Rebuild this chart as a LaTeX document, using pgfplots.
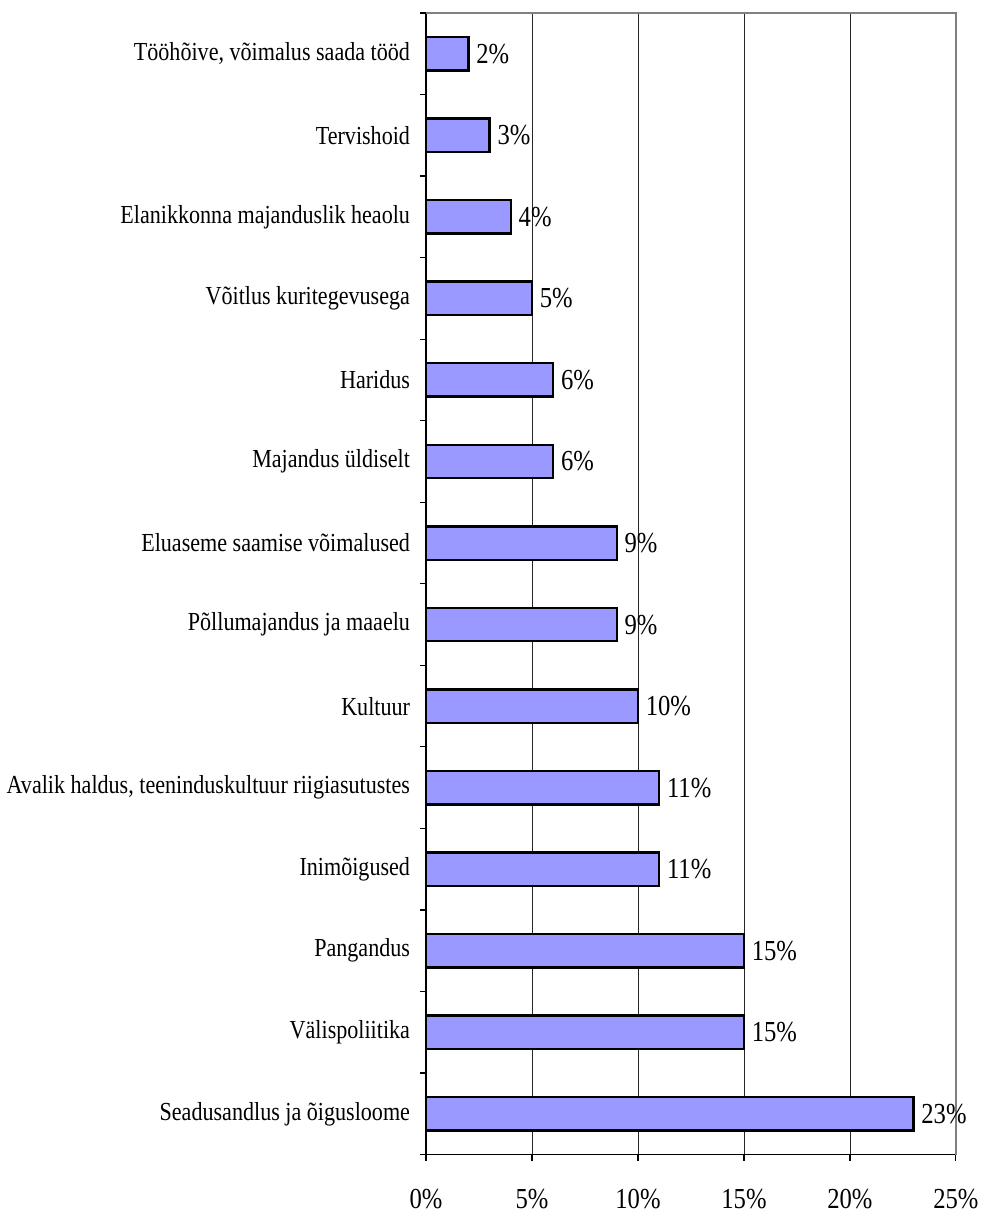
\documentclass[border=0pt]{standalone}
\usepackage{fontspec}
\setmainfont{Liberation Serif}[FakeStretch=0.85]
\usepackage{pgfplots}
\pgfplotsset{compat=1.18}
\definecolor{barblue}{HTML}{9999FF}

\pgfplotstableread{
y val
0 23
1 15
2 15
3 11
4 11
5 10
6 9
7 9
8 6
9 6
10 5
11 4
12 3
13 2
}\answers

\begin{document}
\begin{tikzpicture}
\begin{axis}[
  scale only axis,
  width=265pt, height=571pt,
  xbar,
  bar width=0.41,
  xmin=0, xmax=25,
  ymin=-0.5, ymax=13.5,
  axis x line*=bottom,
  axis y line*=left,
  axis line style={black, line width=0.8pt},
  /pgf/number format/assume math mode=true,
  xtick={0,5,10,15,20,25},
  xticklabel={\pgfmathprintnumber{\tick}\%},
  xticklabel style={font=\fontsize{14.5}{16}\selectfont, yshift=-11pt},
  xmajorgrids,
  major grid style={black!85, line width=0.4pt},
  ytick={0,...,13},
  major y tick style={draw=none},
  minor ytick={-0.5,0.5,...,13.5},
  minor y tick style={black, line width=0.6pt},
  major x tick style={black, line width=0.6pt},
  tick align=outside,
  major tick length=3pt,
  minor tick length=3pt,
  yticklabels={Seadusandlus ja õigusloome, Välispoliitika, Pangandus, Inimõigused, {Avalik haldus, teeninduskultuur riigiasutustes}, Kultuur, Põllumajandus ja maaelu, Eluaseme saamise võimalused, Majandus üldiselt, Haridus, Võitlus kuritegevusega, Elanikkonna majanduslik heaolu, Tervishoid, {Tööhõive, võimalus saada tööd}},
  yticklabel style={font=\fontsize{13}{15}\selectfont, xshift=-1.5pt},
  point meta=explicit,
  nodes near coords={\pgfmathprintnumber{\pgfplotspointmeta}\%},
  nodes near coords style={font=\fontsize{14.5}{16}\selectfont, anchor=west, xshift=0pt, black},
  clip=false,
]
\addplot[fill=barblue, draw=black, line width=1.2pt] table[x=val, y=y, meta=val] {\answers};
\draw[gray, line width=1pt] (rel axis cs:0,1) -- (rel axis cs:1,1) -- (rel axis cs:1,0);
\coordinate (tr) at (rel axis cs:1,1);
\end{axis}
\path (tr) ++(0,6.5pt) coordinate (pad);
\path (pad) circle (0pt);
\end{tikzpicture}
\end{document}
